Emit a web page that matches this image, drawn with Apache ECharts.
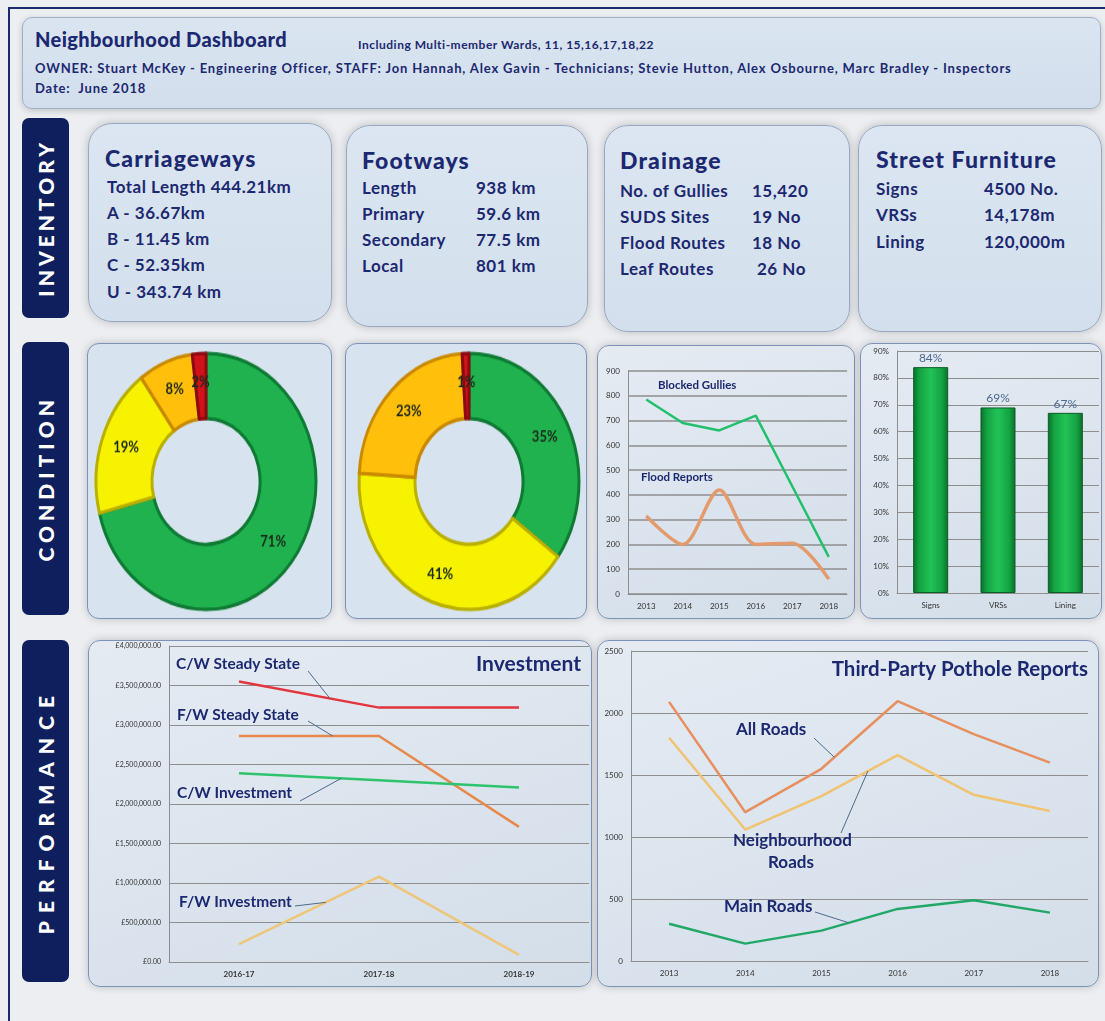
<!DOCTYPE html>
<html>
<head>
<meta charset="utf-8">
<title>Neighbourhood Dashboard</title>
<script src="https://cdn.jsdelivr.net/npm/echarts@6/dist/echarts.min.js"></script>
<style>
  body {
    margin: 0;
    width: 1105px;
    height: 1021px;
    position: relative;
    overflow: hidden;
    background: #eceef1;
    font-family: Lato, "Open Sans", sans-serif;
    font-weight: 700;
    color: #1c2870;
  }
  .frame {
    position: absolute; left: 8px; top: 7px; width: 1097px; height: 1014px;
    border-left: 2px solid #1a2a6c; border-top: 2px solid #1a2a6c;
  }
  .abs { position: absolute; }
  .header {
    left: 22px; top: 17px; width: 1077px; height: 90px;
    background: linear-gradient(180deg, #dae5f1, #d2deec);
    border: 1px solid #9fb0c8; border-radius: 10px;
    box-shadow: 0 2px 6px rgba(0,0,0,0.18);
  }
  .side {
    left: 22px; width: 47px; background: #0f1f5e; border-radius: 7px;
    color: #fff; display: flex; align-items: center; justify-content: center;
  }
  .side span {
    writing-mode: vertical-rl; transform: rotate(180deg);
    font-size: 21px; font-weight: 900;
  }
  .inv {
    background: linear-gradient(180deg, #dbe6f2, #d3dfec);
    border: 1.5px solid #98a8c0; border-radius: 24px;
    box-shadow: 0 0 10px rgba(0,0,0,0.22);
  }
  .inv h2 { position: absolute; margin: 0; font-size: 23px; font-weight: 900; letter-spacing: 1.1px; }
  .row { position: absolute; font-size: 17px; letter-spacing: 0.5px; white-space: nowrap; }
  .panel {
    background: linear-gradient(160deg, #e5ebf3, #d3dee9);
    border: 1.5px solid #7c92b8; border-radius: 12px;
    box-shadow: 0 0 9px rgba(0,0,0,0.2);
  }
  .panel .chart { position: absolute; left: 0; top: 0; width: 100%; height: 100%; }
  .panel .oval { position: absolute; left: 0; top: 0; width: 100%; height: 235px; transform-origin: 0 0; transform: scaleY(1.164); }
  .hd { font-size: 13px; letter-spacing: 0.85px; white-space: nowrap; }
</style>
</head>
<body>
<div class="frame"></div>

<div class="abs header">
  <div class="abs" style="left:12px;top:9px;font-size:20px;font-weight:900;letter-spacing:0.4px;">Neighbourhood Dashboard</div>
  <div class="abs" style="left:335px;top:19px;font-size:12px;letter-spacing:0.5px;">Including Multi-member Wards, 11, 15,16,17,18,22</div>
  <div class="abs hd" style="left:12px;top:42px;">OWNER: Stuart McKey - Engineering Officer, STAFF: Jon Hannah, Alex Gavin - Technicians; Stevie Hutton, Alex Osbourne, Marc Bradley - Inspectors</div>
  <div class="abs hd" style="left:12px;top:62px;">Date:&nbsp; June 2018</div>
</div>

<div class="abs side" style="top:118px;height:200px;"><span style="letter-spacing:4px;">INVENTORY</span></div>
<div class="abs side" style="top:342px;height:273px;"><span style="letter-spacing:5px;">CONDITION</span></div>
<div class="abs side" style="top:640px;height:342px;"><span style="letter-spacing:8px;">PERFORMANCE</span></div>

<!-- Inventory -->
<div class="abs inv" style="left:88px;top:123px;width:242px;height:197px;">
  <h2 style="left:16px;top:20px;">Carriageways</h2>
  <div class="row" style="left:18px;top:52px;">Total Length 444.21km</div>
  <div class="row" style="left:18px;top:78px;">A - 36.67km</div>
  <div class="row" style="left:18px;top:104px;">B - 11.45 km</div>
  <div class="row" style="left:18px;top:130px;">C - 52.35km</div>
  <div class="row" style="left:18px;top:157px;">U - 343.74 km</div>
</div>
<div class="abs inv" style="left:346px;top:125px;width:240px;height:200px;">
  <h2 style="left:15px;top:20px;">Footways</h2>
  <div class="row" style="left:15px;top:51px;">Length</div><div class="row" style="left:129px;top:51px;">938 km</div>
  <div class="row" style="left:15px;top:77px;">Primary</div><div class="row" style="left:129px;top:77px;">59.6 km</div>
  <div class="row" style="left:15px;top:103px;">Secondary</div><div class="row" style="left:129px;top:103px;">77.5 km</div>
  <div class="row" style="left:15px;top:129px;">Local</div><div class="row" style="left:129px;top:129px;">801 km</div>
</div>
<div class="abs inv" style="left:604px;top:125px;width:244px;height:205px;">
  <h2 style="left:15px;top:20px;">Drainage</h2>
  <div class="row" style="left:15px;top:54px;">No. of Gullies</div><div class="row" style="left:147px;top:54px;">15,420</div>
  <div class="row" style="left:15px;top:80px;">SUDS Sites</div><div class="row" style="left:147px;top:80px;">19 No</div>
  <div class="row" style="left:15px;top:106px;">Flood Routes</div><div class="row" style="left:147px;top:106px;">18 No</div>
  <div class="row" style="left:15px;top:132px;">Leaf Routes</div><div class="row" style="left:152px;top:132px;">26 No</div>
</div>
<div class="abs inv" style="left:858px;top:125px;width:242px;height:205px;">
  <h2 style="left:17px;top:19px;">Street Furniture</h2>
  <div class="row" style="left:17px;top:52px;">Signs</div><div class="row" style="left:125px;top:52px;">4500 No.</div>
  <div class="row" style="left:17px;top:78px;">VRSs</div><div class="row" style="left:125px;top:78px;">14,178m</div>
  <div class="row" style="left:17px;top:105px;">Lining</div><div class="row" style="left:125px;top:105px;">120,000m</div>
</div>

<!-- Condition -->
<div class="abs panel" style="left:87px;top:343px;width:243px;height:274px;background:#d8e3f0;"><div class="oval" id="cwDonut"></div></div>
<div class="abs panel" style="left:345px;top:343px;width:240px;height:274px;background:#d8e3f0;"><div class="oval" id="fwDonut"></div></div>
<div class="abs panel" style="left:597px;top:345px;width:256px;height:272px;"><div class="chart" id="drainage"></div></div>
<div class="abs panel" style="left:860px;top:343px;width:240px;height:274px;"><div class="chart" id="furniture"></div></div>

<!-- Performance -->
<div class="abs panel" style="left:88px;top:640px;width:502px;height:345px;"><div class="chart" id="investment"></div></div>
<div class="abs panel" style="left:597px;top:640px;width:500px;height:345px;"><div class="chart" id="potholes"></div></div>

<script>
const fontFamily = 'Lato, "Open Sans", sans-serif';
const navy = '#1c2870';

// condition bands (good -> bad)
const conditionBands = ['Good', 'Fair', 'Poor', 'Very Poor'];
const carriagewayCondition = [71, 19, 8, 2];
const footwayCondition = [35, 41, 23, 1];

// drainage
const drainageYears = ['2013', '2014', '2015', '2016', '2017', '2018'];
const blockedGullies = [785, 690, 660, 720, 435, 150];
const floodReports = [315, 200, 420, 200, 205, 60];

// street furniture condition
const furnitureItems = ['Signs', 'VRSs', 'Lining'];
const furnitureCondition = [84, 69, 67];

// investment
const investmentYears = ['2016-17', '2017-18', '2018-19'];
const cwSteadyState = [3550000, 3220000, 3220000];
const fwSteadyState = [2860000, 2860000, 1710000];
const cwInvestment = [2390000, 2300000, 2210000];
const fwInvestment = [225000, 1080000, 90000];

// third-party pothole reports
const potholeYears = ['2013', '2014', '2015', '2016', '2017', '2018'];
const allRoads = [2090, 1200, 1550, 2095, 1830, 1600];
const neighbourhoodRoads = [1800, 1060, 1330, 1660, 1340, 1210];
const mainRoads = [300, 140, 245, 420, 490, 390];

const bandColors = ['#1fb24f', '#f7f200', '#ffbf0a', '#d0121b'];
const bandEdges = ['#0e7a33', '#b9b000', '#c98a00', '#8c0a10'];

const gridGrey = '#8e8e8e';
const axisText = { fontSize: 8, color: '#333', fontFamily: fontFamily };

// donut is drawn round and stretched into the oval div
function donut(el, values, cx, cy) {
  const chart = echarts.init(document.getElementById(el));
  chart.setOption({
    animation: false,
    series: [{
      type: 'pie',
      radius: [54, 110],
      center: [cx, cy],
      startAngle: 90,
      silent: true,
      data: values.map((v, i) => ({
        name: conditionBands[i],
        value: v,
        itemStyle: { color: bandColors[i], borderColor: bandEdges[i], borderWidth: 3 }
      })),
      label: {
        position: 'inside', formatter: '{c}%',
        color: '#1b2a1b', fontSize: 13, fontWeight: 'bold', fontFamily: fontFamily
      },
      labelLine: { show: false }
    }]
  });
}

donut('cwDonut', carriagewayCondition, 118, 118);
donut('fwDonut', footwayCondition, 123, 118);

// drainage line chart
const drainage = echarts.init(document.getElementById('drainage'));
drainage.setOption({
  animation: false,
  grid: { left: 30, right: 7, top: 25, bottom: 24 },
  xAxis: {
    type: 'category', data: drainageYears,
    axisLine: { lineStyle: { color: gridGrey } },
    axisTick: { lineStyle: { color: gridGrey } },
    axisLabel: axisText
  },
  yAxis: {
    type: 'value', min: 0, max: 900, interval: 100,
    axisLine: { show: true, lineStyle: { color: gridGrey } },
    splitLine: { lineStyle: { color: gridGrey, width: 1.5 } },
    axisLabel: axisText
  },
  series: [
    { type: 'line', data: blockedGullies, symbol: 'none', lineStyle: { color: '#22c06c', width: 2.5 } },
    { type: 'line', data: floodReports, smooth: 0.3, symbol: 'none', lineStyle: { color: '#e39a6c', width: 3.5 } }
  ],
  graphic: [
    { type: 'text', left: 60, top: 33, style: { text: 'Blocked Gullies', fill: navy, font: 'bold 11.5px ' + fontFamily } },
    { type: 'text', left: 43, top: 125, style: { text: 'Flood Reports', fill: navy, font: 'bold 11.5px ' + fontFamily } }
  ]
});

// street furniture bars
const furniture = echarts.init(document.getElementById('furniture'));
furniture.setOption({
  animation: false,
  grid: { left: 36, right: 2, top: 7, bottom: 25 },
  xAxis: {
    type: 'category', data: furnitureItems,
    axisLine: { lineStyle: { color: gridGrey } },
    axisTick: { show: false },
    axisLabel: axisText
  },
  yAxis: {
    type: 'value', min: 0, max: 90, interval: 10,
    axisLine: { show: true, lineStyle: { color: gridGrey } },
    splitLine: { lineStyle: { color: gridGrey, width: 1.2 } },
    axisLabel: Object.assign({ formatter: '{value}%' }, axisText)
  },
  series: [{
    type: 'bar', data: furnitureCondition, barWidth: '52%',
    itemStyle: {
      color: new echarts.graphic.LinearGradient(0, 0, 1, 0, [
        { offset: 0, color: '#0a6e2a' },
        { offset: 0.18, color: '#14a343' },
        { offset: 0.5, color: '#22c257' },
        { offset: 0.82, color: '#14a343' },
        { offset: 1, color: '#0a6e2a' }
      ]),
      borderColor: '#0a5e24', borderWidth: 1
    },
    label: {
      show: true, position: 'top', formatter: '{c}%', distance: 3,
      color: '#4c6894', fontSize: 12, fontFamily: fontFamily
    }
  }]
});

function money(v) {
  return '£' + v.toFixed(2).replace(/\B(?=(\d{3})+(?!\d))/g, ',');
}

// point along a straight series segment, in pixels
function pointOn(chart, data, i, t) {
  const a = chart.convertToPixel({ gridIndex: 0 }, [i, data[i]]);
  const b = chart.convertToPixel({ gridIndex: 0 }, [i + 1, data[i + 1]]);
  return [a[0] + (b[0] - a[0]) * t, a[1] + (b[1] - a[1]) * t];
}

function label(text, left, top, size) {
  return { type: 'text', left: left, top: top, z: 10,
    style: { text: text, fill: navy, font: 'bold ' + size + 'px ' + fontFamily } };
}

function leader(start, end) {
  return { type: 'line', z: 9,
    shape: { x1: start[0], y1: start[1], x2: end[0], y2: end[1] },
    style: { stroke: '#4d6a88', lineWidth: 1 } };
}

// investment chart
const investment = echarts.init(document.getElementById('investment'));
investment.setOption({
  animation: false,
  grid: { left: 80, right: 2, top: 5, bottom: 24 },
  xAxis: {
    type: 'category', data: investmentYears,
    axisLine: { lineStyle: { color: gridGrey } },
    axisTick: { show: false },
    axisLabel: { fontSize: 8, fontWeight: 'bold', color: '#333', fontFamily: fontFamily }
  },
  yAxis: {
    type: 'value', min: 0, max: 4000000, interval: 500000,
    axisLine: { show: true, lineStyle: { color: gridGrey } },
    splitLine: { lineStyle: { color: gridGrey, width: 1.2 } },
    axisLabel: Object.assign({ formatter: money }, axisText, { fontSize: 7 })
  },
  series: [
    { type: 'line', data: cwSteadyState, symbol: 'none', lineStyle: { color: '#e3353e', width: 2.5 } },
    { type: 'line', data: fwSteadyState, symbol: 'none', lineStyle: { color: '#e8894c', width: 2.5 } },
    { type: 'line', data: cwInvestment, symbol: 'none', lineStyle: { color: '#2cc46d', width: 2.5 } },
    { type: 'line', data: fwInvestment, symbol: 'none', lineStyle: { color: '#eec67a', width: 2.5 } }
  ]
});
investment.setOption({
  graphic: [
    { type: 'text', right: 10, top: 13, z: 10, style: { text: 'Investment', fill: navy, font: 'bold 21px ' + fontFamily } },
    label('C/W Steady State', 87, 15, 15.5),
    label('F/W Steady State', 88, 66, 15.5),
    label('C/W Investment', 88, 144, 15.5),
    label('F/W Investment', 90, 253, 15.5),
    leader([219, 30], pointOn(investment, cwSteadyState, 0, 0.65)),
    leader([219, 80], pointOn(investment, fwSteadyState, 0, 0.67)),
    leader([211, 160], pointOn(investment, cwInvestment, 0, 0.73)),
    leader([206, 265], pointOn(investment, fwInvestment, 0, 0.62))
  ]
});

// pothole reports chart
const potholes = echarts.init(document.getElementById('potholes'));
potholes.setOption({
  animation: false,
  grid: { left: 33, right: 10, top: 10, bottom: 25 },
  xAxis: {
    type: 'category', data: potholeYears,
    axisLine: { lineStyle: { color: gridGrey } },
    axisTick: { lineStyle: { color: gridGrey } },
    axisLabel: axisText
  },
  yAxis: {
    type: 'value', min: 0, max: 2500, interval: 500,
    axisLine: { show: true, lineStyle: { color: gridGrey } },
    splitLine: { lineStyle: { color: gridGrey, width: 1.2 } },
    axisLabel: Object.assign({ formatter: v => String(v) }, axisText)
  },
  series: [
    { type: 'line', data: allRoads, symbol: 'none', lineStyle: { color: '#e78f5f', width: 2.5 } },
    { type: 'line', data: neighbourhoodRoads, symbol: 'none', lineStyle: { color: '#f1c370', width: 2.5 } },
    { type: 'line', data: mainRoads, symbol: 'none', lineStyle: { color: '#22a866', width: 2.5 } }
  ]
});
potholes.setOption({
  graphic: [
    { type: 'text', right: 10, top: 18, z: 10, style: { text: 'Third-Party Pothole Reports', fill: navy, font: 'bold 20.5px ' + fontFamily } },
    label('All Roads', 138, 80, 17),
    label('Neighbourhood', 135, 191, 17),
    label('Roads', 170, 213, 17),
    label('Main Roads', 126, 257, 17),
    leader([216, 97], pointOn(potholes, allRoads, 2, 0.17)),
    leader([243, 192], pointOn(potholes, neighbourhoodRoads, 2, 0.61)),
    leader([217, 271], pointOn(potholes, mainRoads, 2, 0.36))
  ]
});
</script>
</body>
</html>
